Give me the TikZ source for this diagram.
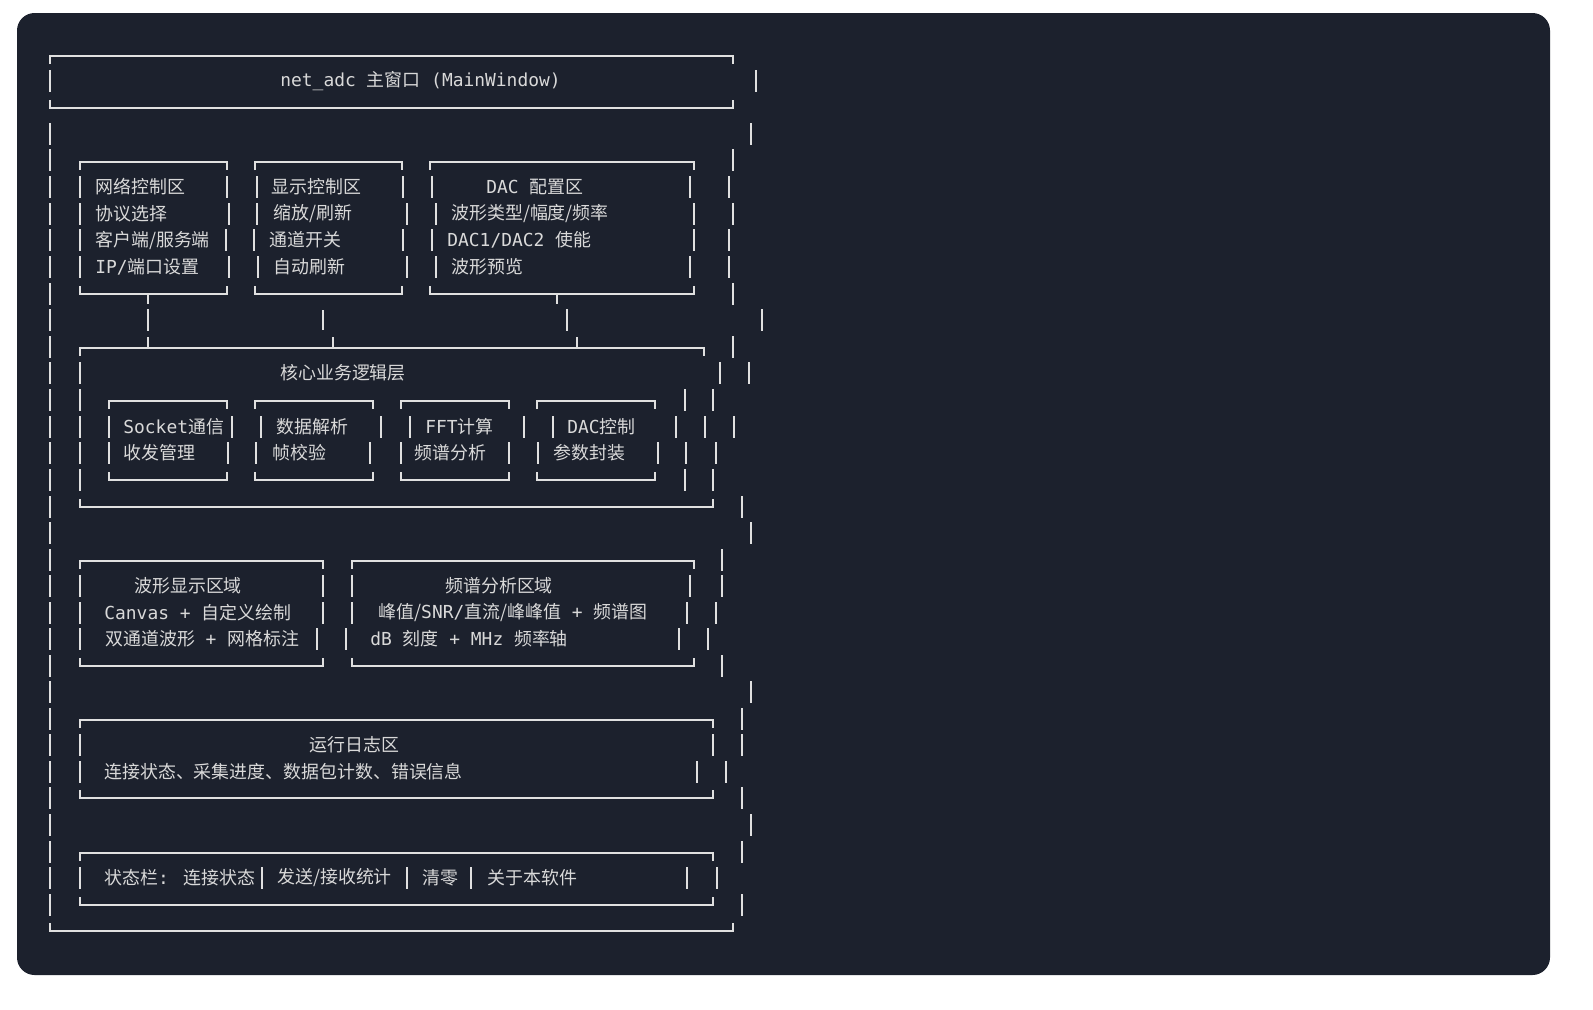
\documentclass[tikz,border=0pt]{standalone}
\usepackage{fontspec}
\setmainfont{Noto Sans CJK SC}
\newfontfamily\mono{DejaVu Sans Mono}
\newcommand{\m}[1]{{\mono #1}}
\newcommand{\bx}[4]{% x1 x2 ytop ybot
  \draw[ln] (#1,#3+8) -- (#1,#3) -- (#2,#3) -- (#2,#3+8);
  \draw[ln] (#1,#4-8) -- (#1,#4) -- (#2,#4) -- (#2,#4-8);}
\newcommand{\vb}[2]{\draw[ln] (#1,#2-11) -- (#1,#2+11);}
\begin{document}
\begin{tikzpicture}[x=0.02cm,y=-0.02cm,
  ln/.style={draw=white!88!black,line width=0.9pt},
  tx/.style={text=white!85!black,anchor=west,inner sep=0pt,font=\fontsize{10.2}{11}\selectfont}]
\fill[fill=white] (0,0) rectangle (1593,1009);
\fill[rounded corners=10pt,fill={rgb,255:red,28;green,33;blue,45}] (17,13) rectangle (1550,975);
% outer frame
\bx{50}{733}{56}{108}
\draw[ln] (50,923) -- (50,931) -- (733,931) -- (733,923);
\foreach \y in {81,134,160,187,214,240,267,294,320,347,373,400,427,453,480,507,533,560,586,613,639,666,692,719,745,772,798,825,852,878,905} {\vb{50}{\y}}
\foreach \x/\y in {756/81,751/134,733/160,729/187,733/214,729/240,729/267,733/294,762/320,733/347,720/373,749/373,685/400,713/400,676/427,705/427,734/427,686/453,716/453,685/480,713/480,742/507,751/533,722/560,690/586,722/586,687/613,716/613,679/639,708/639,722/666,751/692,742/719,713/745,742/745,697/772,726/772,742/798,751/825,742/852,687/878,717/878,742/905} {\vb{\x}{\y}}
% top boxes
\bx{80}{227}{162}{294}
\bx{255}{402}{162}{294}
\bx{430}{694}{162}{294}
\foreach \x/\y in {80/187,80/214,80/240,80/267,227/187,229/214,226/240,229/267,
 257/187,257/214,254/240,258/267,403/187,407/214,403/240,407/267,
 432/187,436/214,432/240,436/267,690/187,694/214,694/240,690/267} {\vb{\x}{\y}}
\draw[ln] (148,294) -- (148,304); \vb{148}{320} \draw[ln] (148,337) -- (148,348);
\draw[ln] (323,310) -- (323,330); \draw[ln] (333,337) -- (333,348);
\draw[ln] (557,294) -- (557,304); \vb{567}{320} \draw[ln] (577,337) -- (577,348);
% core
\draw[ln] (80,356) -- (80,348) -- (704,348) -- (704,356);
\draw[ln] (80,499) -- (80,507) -- (713,507) -- (713,499);
\foreach \y in {373,400,427,453,480} {\vb{80}{\y}}
\bx{109}{227}{401}{480}
\bx{255}{373}{401}{480}
\bx{401}{509}{401}{480}
\bx{537}{655}{401}{480}
\foreach \x/\y in {109/427,232/427,109/453,228/453,261/427,381/427,256/453,370/453,410/427,524/427,401/453,509/453,553/427,538/453,658/453} {\vb{\x}{\y}}
% display
\bx{80}{323}{561}{666}
\bx{352}{694}{561}{666}
\foreach \x/\y in {80/586,80/613,80/639,323/586,323/613,317/639,352/586,352/613,346/639} {\vb{\x}{\y}}
% log
\bx{80}{713}{720}{798}
\foreach \x/\y in {80/745,80/772} {\vb{\x}{\y}}
\bx{80}{713}{853}{905}
\foreach \x/\y in {80/878,262/878,407/878,471/878} {\vb{\x}{\y}}
% texts
\node[tx] (t0) at (280,81) {\m{net\_adc }主窗口\m{ (MainWindow)}};
\node[tx] (a1) at (95,187) {网络控制区};
\node[tx] (a2) at (95,214) {协议选择};
\node[tx] (a3) at (95,240) {客户端/服务端};
\node[tx] (a4) at (95,267) {\m{IP/}端口设置};
\node[tx] (b1) at (271,187) {显示控制区};
\node[tx] (b2) at (273,214) {缩放/刷新};
\node[tx] (b3) at (269,240) {通道开关};
\node[tx] (b4) at (273,267) {自动刷新};
\node[tx] (c1) at (486,187) {\m{DAC }配置区};
\node[tx] (c2) at (451,214) {波形类型/幅度/频率};
\node[tx] (c3) at (447,240) {\m{DAC1/DAC2 }使能};
\node[tx] (c4) at (451,267) {波形预览};
\node[tx] (core) at (280,373) {核心业务逻辑层};
\node[tx] (s1) at (123,427) {\m{Socket}通信};
\node[tx] (s1b) at (123,453) {收发管理};
\node[tx] (s2) at (276,427) {数据解析};
\node[tx] (s2b) at (272,453) {帧校验};
\node[tx] (s3) at (425,427) {\m{FFT}计算};
\node[tx] (s3b) at (414,453) {频谱分析};
\node[tx] (s4) at (567,427) {\m{DAC}控制};
\node[tx] (s4b) at (553,453) {参数封装};
\node[tx] (w1) at (134,586) {波形显示区域};
\node[tx] (w2) at (104,613) {\m{Canvas + }自定义绘制};
\node[tx] (w3) at (105,639) {双通道波形\m{ + }网格标注};
\node[tx] (f1) at (445,586) {频谱分析区域};
\node[tx] (f2) at (378,613) {峰值/\m{SNR/}直流/峰峰值\m{ + }频谱图};
\node[tx] (f3) at (370,639) {\m{dB }刻度\m{ + MHz }频率轴};
\node[tx] (l1) at (309,745) {运行日志区};
\node[tx] (l2) at (104,772) {连接状态、采集进度、数据包计数、错误信息};
\node[tx] (st1) at (104,878) {状态栏\m{: }连接状态};
\node[tx] (st2) at (277,878) {发送/接收统计};
\node[tx] (st3) at (422,878) {清零};
\node[tx] (st4) at (487,878) {关于本软件};
\pgfresetboundingbox
\useasboundingbox (0,0) rectangle (1593,1009);
\end{tikzpicture}
\end{document}
